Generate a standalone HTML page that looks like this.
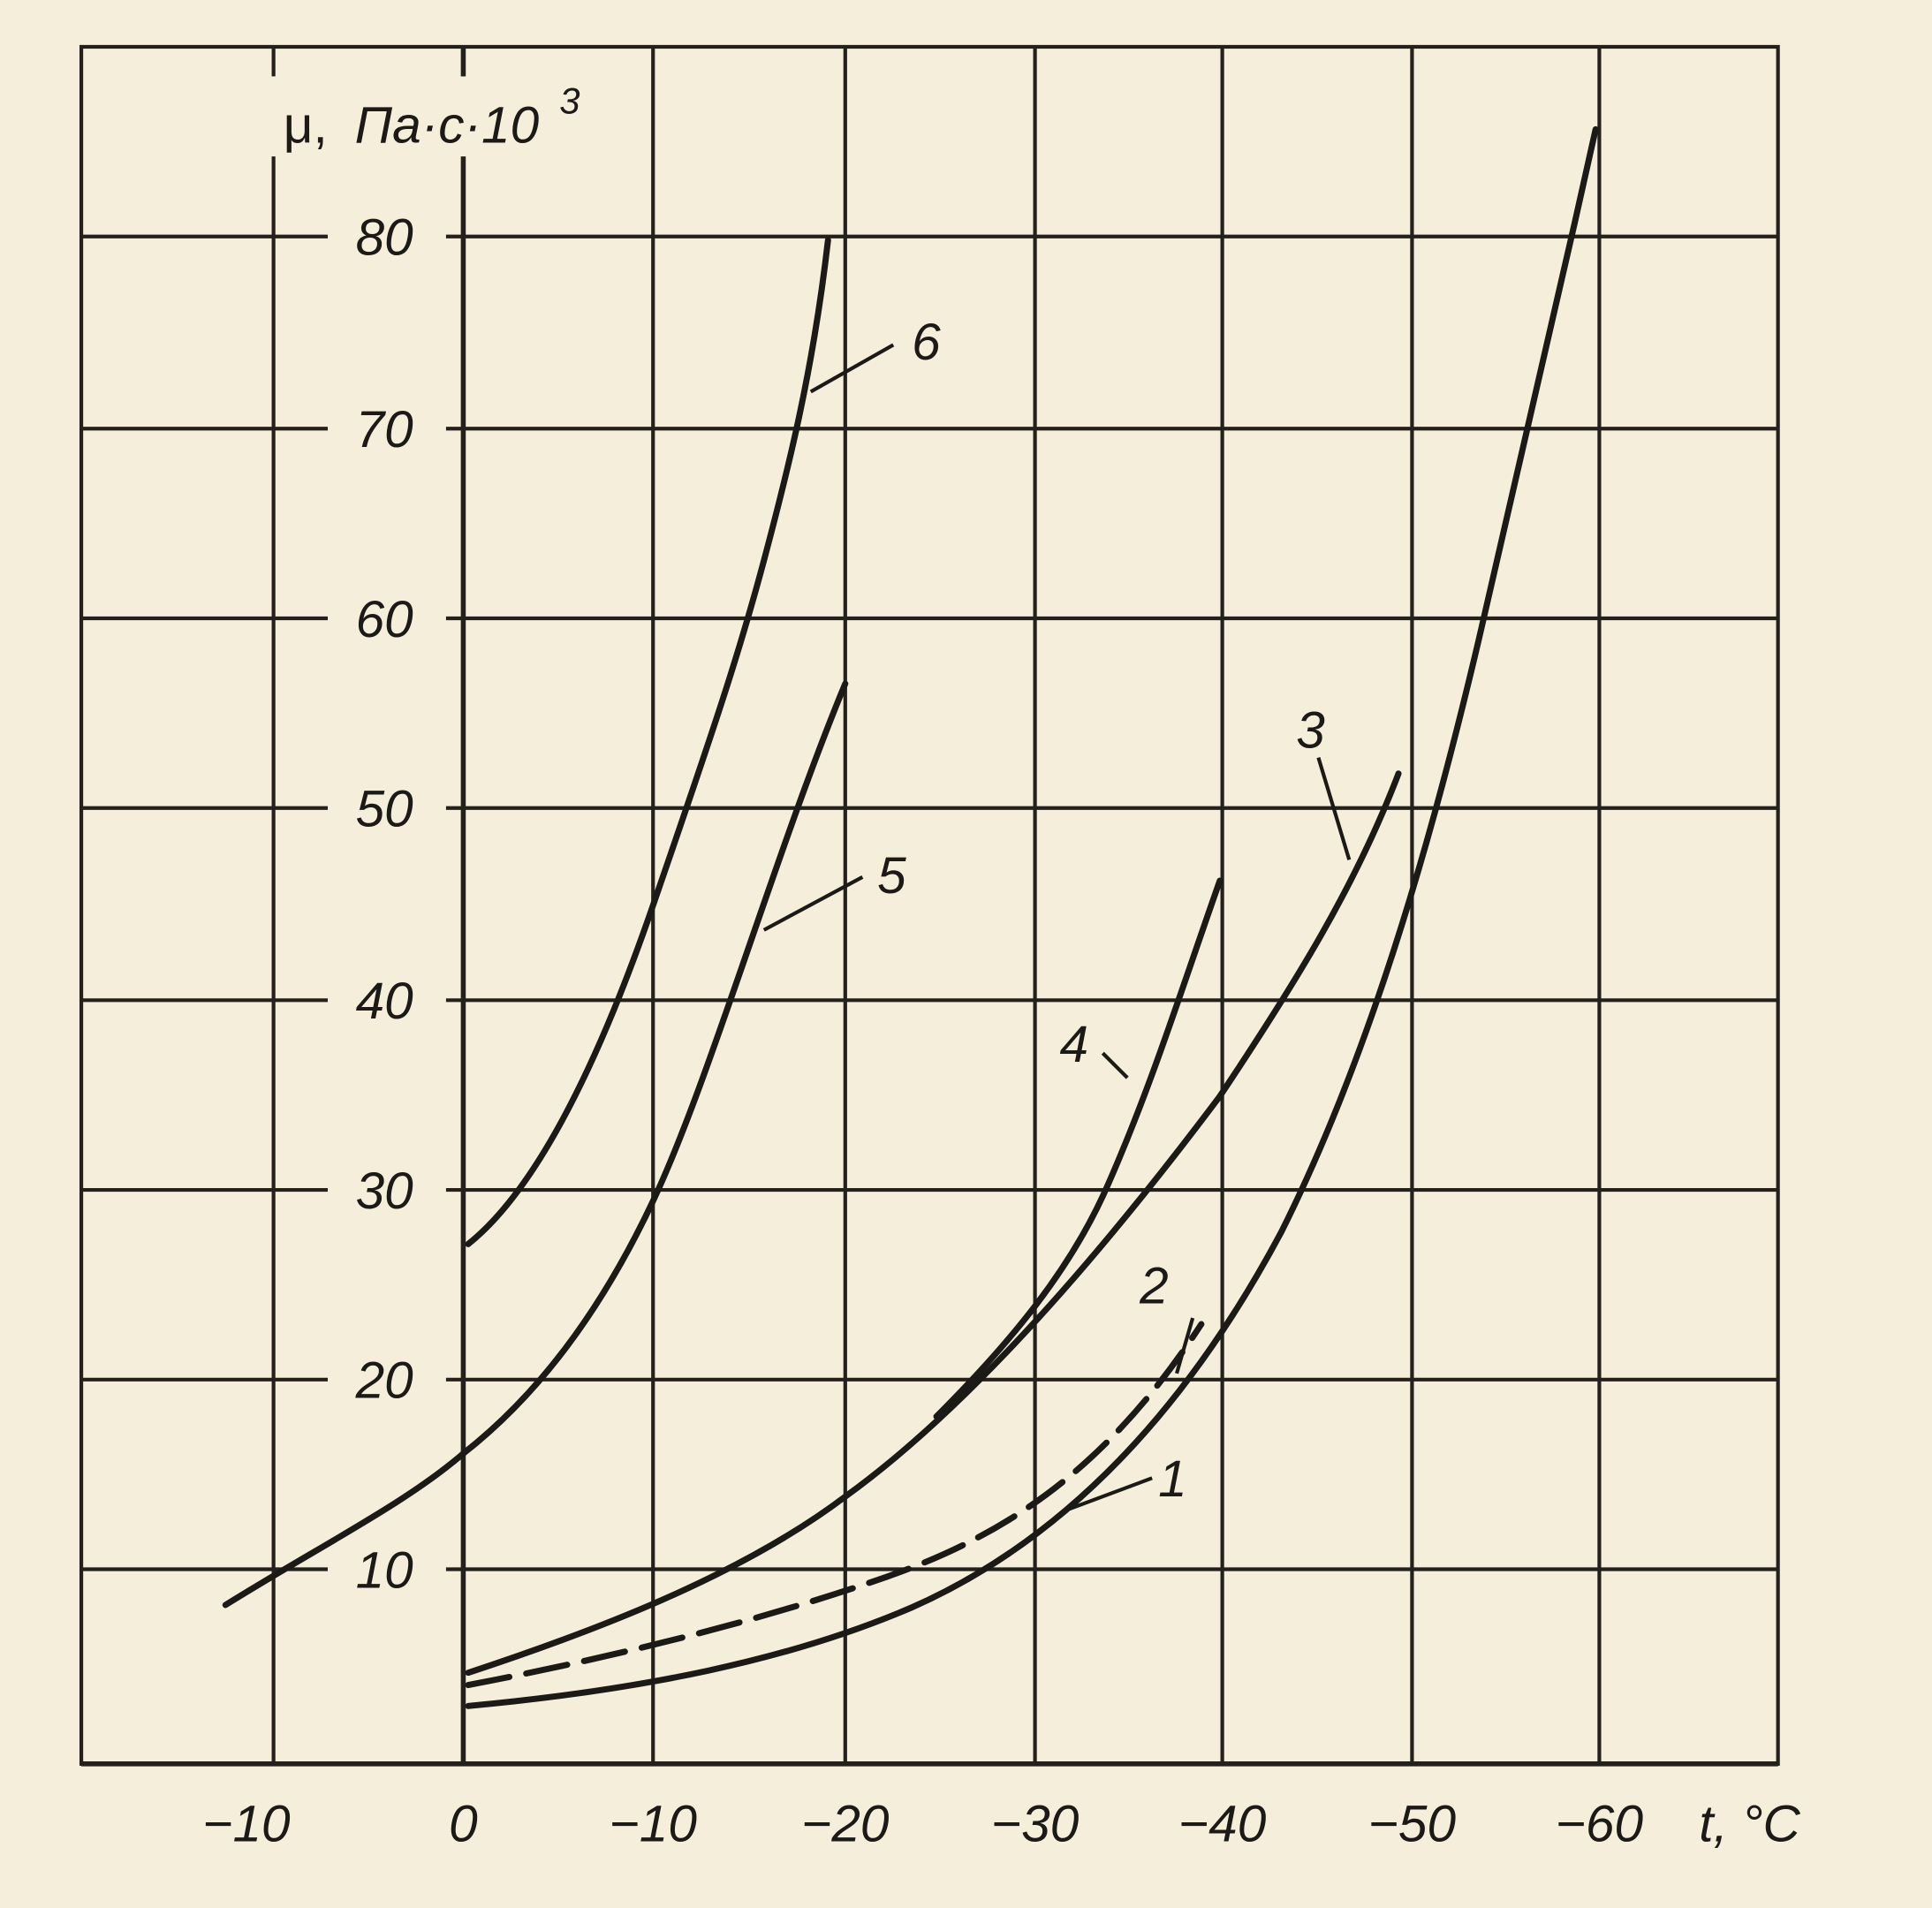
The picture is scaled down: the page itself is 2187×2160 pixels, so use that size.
<!DOCTYPE html>
<html><head><meta charset="utf-8"><style>
html,body{margin:0;padding:0;background:#f5eedb;}
svg{display:block;}
text{font-family:"Liberation Sans","DejaVu Sans",sans-serif;font-style:italic;fill:#1c1a17;}
</style></head><body>
<svg width="2187" height="2160" viewBox="0 0 1568 1549" preserveAspectRatio="none" xmlns="http://www.w3.org/2000/svg">
<rect width="1568" height="1549" fill="#f5eedb"/>
<g stroke="#24211d" stroke-width="3" fill="none">
<rect x="66" y="38" width="1377" height="1394"/>
<line x1="222" y1="38" x2="222" y2="1432"/>
<line x1="530" y1="38" x2="530" y2="1432"/>
<line x1="686" y1="38" x2="686" y2="1432"/>
<line x1="840" y1="38" x2="840" y2="1432"/>
<line x1="992" y1="38" x2="992" y2="1432"/>
<line x1="1146" y1="38" x2="1146" y2="1432"/>
<line x1="1298" y1="38" x2="1298" y2="1432"/>
<line x1="66" y1="192" x2="1443" y2="192"/>
<line x1="66" y1="348" x2="1443" y2="348"/>
<line x1="66" y1="502" x2="1443" y2="502"/>
<line x1="66" y1="656" x2="1443" y2="656"/>
<line x1="66" y1="812" x2="1443" y2="812"/>
<line x1="66" y1="966" x2="1443" y2="966"/>
<line x1="66" y1="1120" x2="1443" y2="1120"/>
<line x1="66" y1="1274" x2="1443" y2="1274"/>
<line x1="376" y1="38" x2="376" y2="1432" stroke-width="4"/>
<line x1="66" y1="1432" x2="1443" y2="1432" stroke-width="4"/>
</g>
<g fill="#f5eedb">
<rect x="266" y="170" width="96" height="44"/><rect x="266" y="326" width="96" height="44"/>
<rect x="266" y="480" width="96" height="44"/><rect x="266" y="634" width="96" height="44"/>
<rect x="266" y="790" width="96" height="44"/><rect x="266" y="944" width="96" height="44"/>
<rect x="266" y="1098" width="96" height="44"/><rect x="266" y="1252" width="96" height="44"/>
<rect x="220" y="62" width="304" height="65"/>
</g>
<g stroke="#24211d" stroke-width="3">
<line x1="376" y1="38" x2="376" y2="62"/>
</g>
<g font-size="42" text-anchor="middle">
<text x="312" y="207">80</text><text x="312" y="363">70</text><text x="312" y="517">60</text>
<text x="312" y="671">50</text><text x="312" y="827">40</text><text x="312" y="981">30</text>
<text x="312" y="1135">20</text><text x="312" y="1289">10</text>
<text x="200" y="1495">−10</text><text x="376" y="1495">0</text><text x="530" y="1495">−10</text>
<text x="686" y="1495">−20</text><text x="840" y="1495">−30</text><text x="992" y="1495">−40</text>
<text x="1146" y="1495">−50</text><text x="1298" y="1495">−60</text>
<text x="1420" y="1495">t,  °C</text>
</g>
<text x="230" y="116" font-size="42" style="font-style:normal">μ,</text>
<text x="288" y="116" font-size="42">Па·с·10</text>
<text x="454" y="92" font-size="30">3</text>
<g fill="none" stroke="#1c1a17" stroke-width="5" stroke-linecap="round" stroke-linejoin="round">
<path d="M380,1010 C430,970 480,880 530,735 S600,530 620,455 S660,300 672,195"/>
<path d="M183,1303 C260,1255 330,1220 376,1180 C440,1130 490,1060 530,975 C575,880 630,690 686,555"/>
<path d="M380,1358 C480,1325 600,1280 686,1215 C790,1140 900,1010 990,890 C1050,800 1100,720 1135,628"/>
<path d="M760,1150 C820,1090 870,1030 900,960 C935,880 960,800 990,715"/>
<path d="M380,1368 C500,1345 620,1315 720,1280 C820,1245 900,1190 975,1075" stroke-dasharray="34,14"/>
<path d="M380,1385 C520,1372 640,1348 740,1305 C860,1252 960,1150 1040,1000 C1110,860 1160,690 1200,520 C1235,370 1265,240 1295,105"/>
</g>
<g stroke="#1c1a17" stroke-width="3" fill="none">
<line x1="658" y1="318" x2="725" y2="280"/>
<line x1="620" y1="755" x2="700" y2="712"/>
<line x1="1095" y1="698" x2="1070" y2="615"/>
<line x1="915" y1="875" x2="895" y2="855"/>
<line x1="955" y1="1115" x2="968" y2="1070"/>
<line x1="868" y1="1225" x2="935" y2="1200"/>
</g>
<g font-size="42">
<text x="740" y="292">6</text><text x="712" y="725">5</text><text x="1052" y="607">3</text>
<text x="860" y="862">4</text><text x="925" y="1058">2</text><text x="940" y="1215">1</text>
</g>
</svg>
</body></html>
